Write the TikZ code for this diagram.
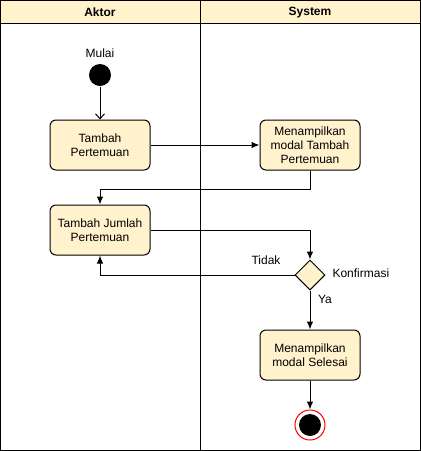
\documentclass[tikz,border=0pt]{standalone}
\usepackage{fontspec}
\setmainfont{Liberation Sans}
\usetikzlibrary{shapes.geometric,arrows.meta}
\definecolor{laneFill}{HTML}{FFF2CC}
\tikzset{
  act/.style={draw, fill=laneFill, rounded corners=6pt, minimum width=100pt,
    minimum height=50pt, align=center, inner sep=1pt, font=\fontsize{12}{14}\selectfont},
  decision/.style={draw, fill=laneFill, diamond, minimum width=30pt,
    minimum height=30pt, inner sep=0pt},
  lbl/.style={font=\fontsize{12}{14}\selectfont, inner sep=0pt},
  flow/.style={-{Latex[length=8pt,width=6.5pt]}},
}
\begin{document}
\begin{tikzpicture}[x=1pt, y=-1pt, line width=1pt]
            \useasboundingbox (0,0) rectangle (421,451);
            % swimlanes
            \fill[laneFill] (0.5,0.5) rectangle (420,23);
            \draw (0.5,0.5) rectangle (420,450);
            \draw (0.5,23) -- (420,23);
            \draw (200,0.5) -- (200,450);
            \node[lbl, font=\bfseries\fontsize{12}{14}\selectfont] (aktor) at (100,12.5) {Aktor};
            \node[lbl, font=\bfseries\fontsize{12}{14}\selectfont] (system) at (310,12.5) {System};
            % start
            \node[circle, fill=black, minimum size=22pt, inner sep=0pt] (mulai) at (100,75) {};
            \node[lbl] (mulaiLbl) at (100,53) {Mulai};
            % actions
            \node[act] (tambah) at (100,145) {Tambah\\Pertemuan};
            \node[act] (modalTambah) at (310,145) {Menampilkan\\modal Tambah\\Pertemuan};
            \node[act] (jumlah) at (100,230) {Tambah Jumlah\\Pertemuan};
            \node[decision] (konfirmasi) at (310,275) {};
            \node[act] (modalSelesai) at (310,355) {Menampilkan\\modal Selesai};
            % end
            \node[circle, draw=red, fill=white, minimum size=30pt, inner sep=0pt] (selesai) at (310,425) {};
            \node[circle, fill=black, minimum size=22pt, inner sep=0pt] at (selesai) {};
            % labels
            \node[lbl, anchor=west] (konfLbl) at (332,273) {Konfirmasi};
            \node[lbl] (tidakLbl) at (266,260) {Tidak};
            \node[lbl] (yaLbl) at (325,299) {Ya};
            % flows
            \draw[-{Straight Barb[length=5pt,width=9pt]}] (mulai) -- (tambah);
            \draw[flow] (tambah) -- (modalTambah);
            \draw[flow] (modalTambah.south) -- ++(0,19) -| (jumlah.north);
            \draw[flow] (jumlah.east) -| (konfirmasi.north);
            \draw[flow] (konfirmasi.west) -| (jumlah.south);
            \draw[flow] (konfirmasi) -- (modalSelesai);
            \draw[flow] (modalSelesai) -- (selesai);
\end{tikzpicture}
\end{document}
